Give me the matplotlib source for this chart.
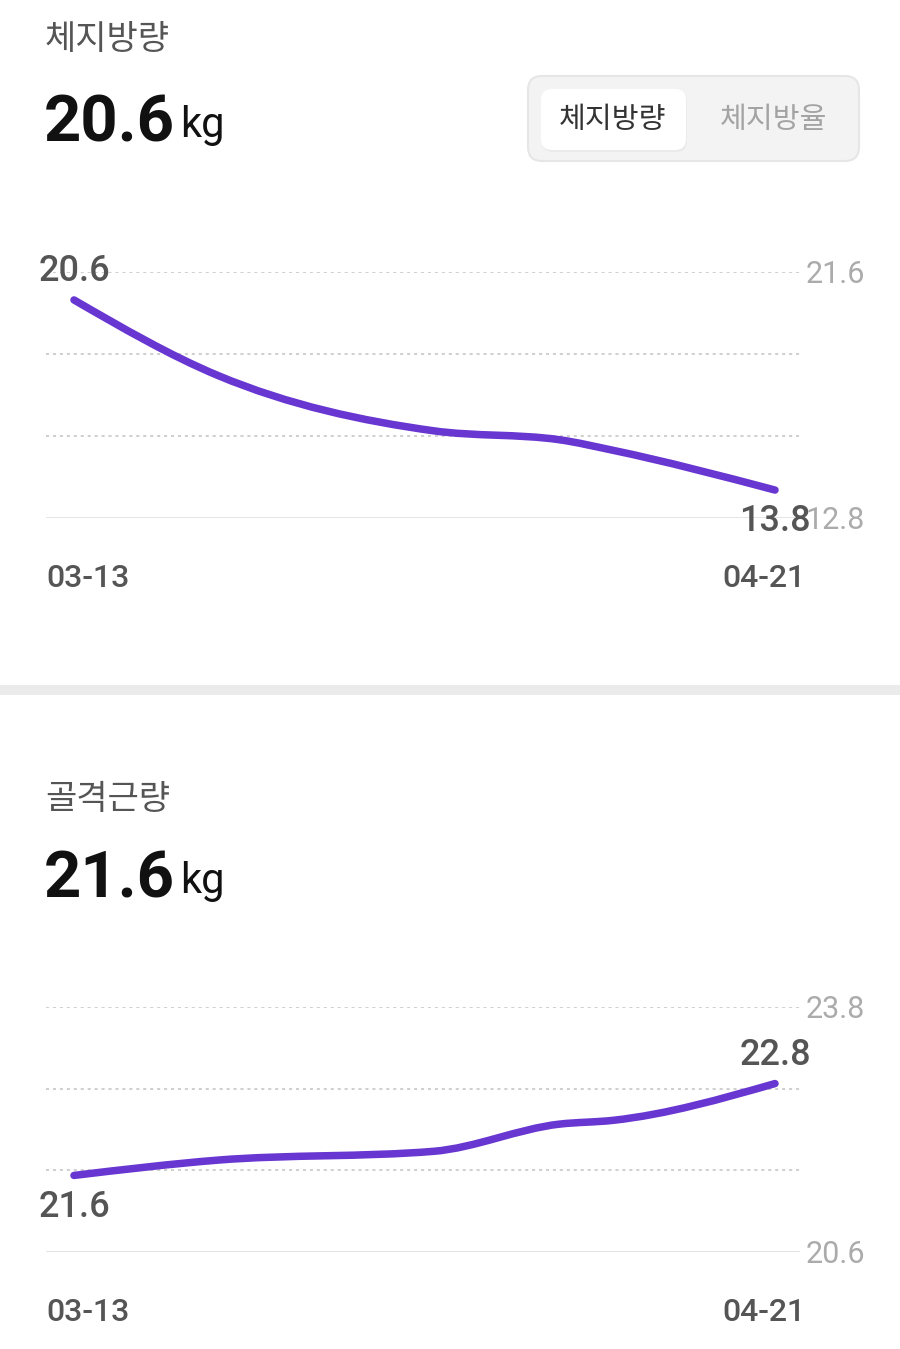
import numpy as np
import matplotlib
matplotlib.use('Agg')
import matplotlib.pyplot as plt
from matplotlib.path import Path
from matplotlib.patches import PathPatch, FancyBboxPatch, Rectangle

plt.rcParams['font.family'] = ['Roboto', 'Noto Sans CJK KR', 'DejaVu Sans']
plt.rcParams['lines.scale_dashes'] = False

W, H = 900, 1349

DATES = np.array(['2024-03-13', '2024-03-21', '2024-04-02', '2024-04-09',
                  '2024-04-12', '2024-04-21'], dtype='datetime64[D]')
DATE_LABELS = ['03-13', '04-21']
FAT_MASS = [20.6, 17.9, 15.92, 15.6, 15.22, 13.8]
FAT_RANGE = [12.8, 21.6]
MUSCLE_MASS = [21.6, 21.8, 21.915, 22.27, 22.32, 22.8]
MUSCLE_RANGE = [20.6, 23.8]
TABS = ['체지방량', '체지방율']

PURPLE = '#6836d0'
GRAY_TXT = '#555555'
LIGHT_TXT = '#ababab'


def fig_rect(x0, y0, x1, y1):
    """pixel box (top-left origin) -> figure fraction rect"""
    return [x0 / W, 1 - y1 / H, (x1 - x0) / W, (y1 - y0) / H]


def monotone_path(x, y):
    """Bezier path through the points with monotone (d3 style) tangents."""
    x = np.asarray(x, float)
    y = np.asarray(y, float)
    n = len(x)
    h = np.diff(x)
    d = np.diff(y) / h
    m = np.zeros(n)
    for i in range(1, n - 1):
        if d[i - 1] * d[i] <= 0:
            continue
        p = (d[i - 1] * h[i] + d[i] * h[i - 1]) / (h[i - 1] + h[i])
        m[i] = np.sign(d[i]) * 2 * min(abs(d[i - 1]), abs(d[i]), 0.5 * abs(p))
    m[0] = (3 * d[0] - m[1]) / 2
    m[-1] = (3 * d[-1] - m[-2]) / 2
    verts = [(x[0], y[0])]
    codes = [Path.MOVETO]
    for i in range(n - 1):
        dx = h[i] / 3
        verts += [(x[i] + dx, y[i] + m[i] * dx),
                  (x[i + 1] - dx, y[i + 1] - m[i + 1] * dx),
                  (x[i + 1], y[i + 1])]
        codes += [Path.CURVE4] * 3
    return Path(verts, codes)


def draw_header(bg, renderer, title, value, y_title, y_base):
    bg.text(45, y_title, title, fontsize=24.5, color=GRAY_TXT,
            ha='left', va='center')
    t = bg.text(44, y_base, f'{value:.1f}', fontsize=47, fontweight='bold',
                color='#111111', ha='left', va='baseline')
    x_end = t.get_window_extent(renderer).x1
    bg.text(x_end + 5, y_base - 5, 'kg', fontsize=30, color='#111111',
            ha='left', va='baseline')


def draw_chart(fig, top, bottom, values, yrange):
    ax = fig.add_axes(fig_rect(46, top, 800, bottom))
    days = (DATES - DATES[0]).astype(int)
    k = (775 - 74) / days[-1]
    ax.set_xlim(days[0] - 28 / k, days[-1] + 25 / k)
    ax.set_ylim(*yrange)
    ax.axis('off')

    levels = np.linspace(yrange[0], yrange[1], 4)
    for lv in levels[1:]:
        ax.axhline(lv, color='#cfcfcf', lw=1.4, dashes=(2.2, 2.8), zorder=1)
    ax.axhline(levels[0], color='#dcdcdc', lw=1.8, zorder=1)

    line = PathPatch(monotone_path(days, values), fill=False, ec=PURPLE, lw=5.4,
                     capstyle='round', joinstyle='round', zorder=3, clip_on=False)
    ax.add_patch(line)

    # axis end labels on the right
    for lv in (yrange[0], yrange[1]):
        ax.annotate(f'{lv:.1f}', xy=(1, lv), xycoords=('axes fraction', 'data'),
                    xytext=(4, -1.5), textcoords='offset points', ha='left',
                    va='center', fontsize=22, color=LIGHT_TXT, zorder=2)

    # first / last value labels
    hi = max(values[0], values[-1])
    for i in (0, -1):
        off = 20.5 if values[i] == hi else -23
        ax.annotate(f'{values[i]:.1f}', xy=(days[i], values[i]), xytext=(0, off),
                    textcoords='offset points', ha='center', va='center',
                    fontsize=26, fontweight='medium', color=GRAY_TXT, zorder=4)

    ax.annotate(DATE_LABELS[0], xy=(0, 0), xycoords='axes fraction', xytext=(0, -43.5),
                textcoords='offset points', ha='left', va='center',
                fontsize=23, fontweight='medium', color=GRAY_TXT)
    ax.annotate(DATE_LABELS[1], xy=(1, 0), xycoords='axes fraction', xytext=(4, -43.5),
                textcoords='offset points', ha='right', va='center',
                fontsize=23, fontweight='medium', color=GRAY_TXT)
    return ax


fig = plt.figure(figsize=(W / 100, H / 100), dpi=100)
fig.patch.set_facecolor('white')
renderer = fig.canvas.get_renderer()

bg = fig.add_axes([0, 0, 1, 1])
bg.set_xlim(0, W)
bg.set_ylim(H, 0)
bg.axis('off')

# segmented control
bg.add_patch(FancyBboxPatch((528, 76), 331, 85, boxstyle='round,pad=0,rounding_size=14',
                            fc='#f3f3f3', ec='#e6e6e6', lw=1.5))
bg.add_patch(FancyBboxPatch((542, 91), 145, 61, boxstyle='round,pad=0,rounding_size=11',
                            fc='#e4e4e4', ec='none', alpha=0.6))
bg.add_patch(FancyBboxPatch((541, 89), 145, 61, boxstyle='round,pad=0,rounding_size=11',
                            fc='white', ec='none'))
bg.text(613, 120, TABS[0], fontsize=21, fontweight='medium', color='#333333',
        ha='center', va='center')
bg.text(774, 120, TABS[1], fontsize=21, fontweight='medium', color='#a3a3a3',
        ha='center', va='center')

# separator band
bg.add_patch(Rectangle((0, 685), W, 10, fc='#ebebeb', ec='none'))

draw_header(bg, renderer, '체지방량', FAT_MASS[0], 40, 142)
draw_header(bg, renderer, '골격근량', MUSCLE_MASS[0], 800, 898)

draw_chart(fig, 272, 518, FAT_MASS, FAT_RANGE)
draw_chart(fig, 1007, 1252, MUSCLE_MASS, MUSCLE_RANGE)

fig.savefig('out.png', dpi=100)
